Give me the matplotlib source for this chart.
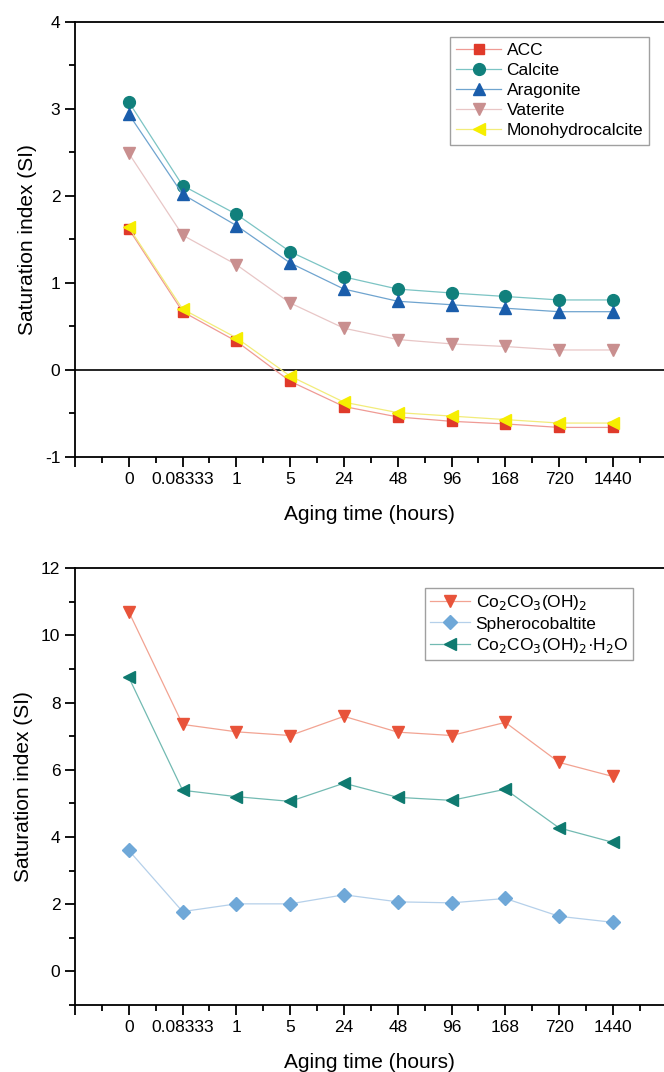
import matplotlib
matplotlib.use("Agg")
import matplotlib.pyplot as plt
from matplotlib.ticker import FixedLocator, MultipleLocator

plt.rcParams['font.family'] = ['Liberation Sans', 'DejaVu Sans']

categories = ["0", "0.08333", "1", "5", "24", "48", "96", "168", "720", "1440"]

acc = [1.62, 0.67, 0.33, -0.13, -0.42, -0.54, -0.59, -0.62, -0.66, -0.66]
calcite = [3.08, 2.12, 1.79, 1.36, 1.07, 0.93, 0.885, 0.845, 0.805, 0.805]
aragonite = [2.94, 2.02, 1.66, 1.23, 0.93, 0.79, 0.75, 0.71, 0.67, 0.67]
vaterite = [2.49, 1.55, 1.21, 0.77, 0.48, 0.35, 0.30, 0.27, 0.23, 0.23]
monohydro = [1.64, 0.70, 0.37, -0.07, -0.37, -0.49, -0.53, -0.57, -0.61, -0.61]

co2 = [10.7, 7.35, 7.13, 7.02, 7.59, 7.12, 7.02, 7.41, 6.22, 5.8]
sphero = [3.6, 1.78, 2.01, 2.01, 2.28, 2.07, 2.04, 2.17, 1.64, 1.46]
co2h2o = [8.75, 5.39, 5.2, 5.06, 5.6, 5.18, 5.09, 5.42, 4.27, 3.84]

x = list(range(len(categories)))

fig = plt.figure(figsize=(6.64, 10.72), dpi=100)
ax1 = fig.add_axes([0.113, 0.5737, 0.887, 0.4058])
ax2 = fig.add_axes([0.113, 0.0625, 0.887, 0.4075])

def style(ax, ylim, ymaj, ymin):
    ax.set_xlim(-1, 9.95)
    ax.set_ylim(*ylim)
    ax.spines['right'].set_visible(False)
    for s in ['left', 'bottom', 'top']:
        ax.spines[s].set_linewidth(1.3)
    ticks = list(range(-1, 10))
    ax.xaxis.set_major_locator(FixedLocator(ticks))
    ax.set_xticklabels([''] + categories)
    ax.xaxis.set_minor_locator(FixedLocator([t + 0.5 for t in range(-1, 10)]))
    ax.yaxis.set_major_locator(MultipleLocator(ymaj))
    ax.yaxis.set_minor_locator(MultipleLocator(ymin))
    ax.tick_params(which='major', direction='out', length=7, width=1.3, labelsize=12.5, top=False, right=False)
    ax.tick_params(which='minor', direction='out', length=4, width=1.3, top=False, right=False)
    ax.set_xlabel('Aging time (hours)', fontsize=15, labelpad=13)
    ax.set_ylabel('Saturation index (SI)', fontsize=15, labelpad=6)

ms = 8.5
lw = 0.9
ax1.axhline(0, color='black', lw=1.2, zorder=1)
ax1.plot(x, acc, color='#ef9a94', lw=lw, marker='s', ms=7.5, mfc='#e03a2a', mec='#e03a2a', label='ACC', zorder=3)
ax1.plot(x, calcite, color='#7cc4c4', lw=lw, marker='o', ms=ms, mfc='#11807c', mec='#11807c', label='Calcite', zorder=3)
ax1.plot(x, aragonite, color='#6fa4cf', lw=lw, marker='^', ms=ms + 0.5, mfc='#1a5dab', mec='#1a5dab', label='Aragonite', zorder=3)
ax1.plot(x, vaterite, color='#e8c6c6', lw=lw, marker='v', ms=ms + 0.5, mfc='#c98f8f', mec='#c98f8f', label='Vaterite', zorder=3)
ax1.plot(x, monohydro, color='#f2ec7a', lw=lw, marker='<', ms=ms + 0.5, mfc='#f6ee00', mec='#f6ee00', label='Monohydrocalcite', zorder=4)
style(ax1, (-1, 4), 1, 0.5)
ax1.set_yticks([-1, 0, 1, 2, 3, 4])
ax1.set_yticklabels(['-1', '0', '1', '2', '3', '4'])
leg1 = ax1.legend(loc='upper right', bbox_to_anchor=(0.975, 0.965), fontsize=12.5, frameon=True, fancybox=False,
                  edgecolor='#888888', handlelength=2.6, handletextpad=0.3, borderpad=0.35, labelspacing=0.28,
                  borderaxespad=0.0)
leg1.get_frame().set_linewidth(1.0)

ax2.plot(x, co2, color='#f2a392', lw=lw, marker='v', ms=ms + 0.5, mfc='#e8533a', mec='#e8533a', label=r'Co$_2$CO$_3$(OH)$_2$', zorder=3)
ax2.plot(x, sphero, color='#b5d0ea', lw=lw, marker='D', ms=7.5, mfc='#6fa8d8', mec='#6fa8d8', label='Spherocobaltite', zorder=3)
ax2.plot(x, co2h2o, color='#72bab2', lw=lw, marker='<', ms=ms + 0.5, mfc='#0f7a70', mec='#0f7a70', label=r'Co$_2$CO$_3$(OH)$_2$·H$_2$O', zorder=3)
style(ax2, (-1, 12), 2, 1)
ax2.set_yticks([0, 2, 4, 6, 8, 10, 12])
leg2 = ax2.legend(loc='upper right', bbox_to_anchor=(0.948, 0.955), fontsize=12.5, frameon=True, fancybox=False,
                  edgecolor='#888888', handlelength=2.3, handletextpad=0.3, borderpad=0.3, labelspacing=0.25,
                  borderaxespad=0.0)
leg2.get_frame().set_linewidth(1.0)

fig.savefig('out.png', dpi=100)
